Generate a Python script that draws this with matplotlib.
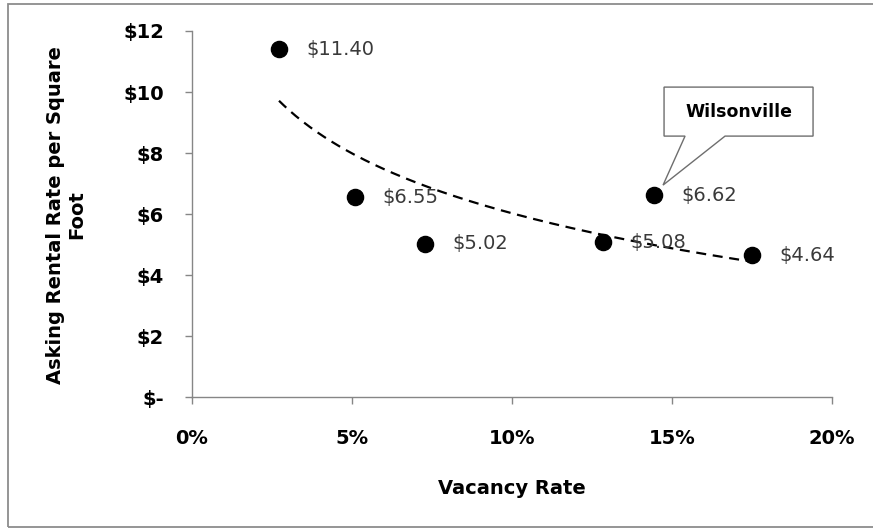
import numpy as np
import matplotlib.pyplot as plt
from matplotlib.patches import Polygon, Rectangle
from matplotlib.ticker import FuncFormatter
from matplotlib import transforms

# vacancy rate (fraction) and asking rent ($/sq ft) for each market
vacancy = [0.0272, 0.0509, 0.0728, 0.1284, 0.1444, 0.1750]
rent = [11.40, 6.55, 5.02, 5.08, 6.62, 4.64]
highlight = "Wilsonville"
highlight_idx = 4

x_ticks = [0.0, 0.05, 0.10, 0.15, 0.20]
y_ticks = [0, 2, 4, 6, 8, 10, 12]

fig = plt.figure(figsize=(8.73, 5.29), dpi=100)
ax = fig.add_axes([0.2199, 0.2495, 0.7331, 0.6919])

# outer chart frame
fig.patches.append(Rectangle((8 / 873, 2 / 529), 1.2, 523 / 529,
                             transform=fig.transFigure, fill=False,
                             edgecolor="#8c8c8c", linewidth=1.3))

ax.scatter(vacancy, rent, s=135, color="black", zorder=3)

# logarithmic trendline fitted to the points
vx = np.array(vacancy)
b, a = np.polyfit(np.log(vx), np.array(rent), 1)
xs = np.linspace(vx.min(), vx.max(), 200)
ax.plot(xs, a + b * np.log(xs), color="black", linestyle=(0, (4.5, 3)),
        linewidth=1.6, zorder=2)

for x, y in zip(vacancy, rent):
    ax.annotate(f"${y:.2f}", (x, y), xytext=(20, 0), textcoords="offset points",
                ha="left", va="center", fontsize=14, color="#3a3a3a",
                family="DejaVu Sans", zorder=4)

# callout box for the highlighted market (offsets in pixels from the point)
hx, hy = vacancy[highlight_idx], rent[highlight_idx]
trans = fig.dpi_scale_trans + transforms.ScaledTranslation(
    hx, hy, ax.transData)
pts = np.array([(10, 108), (159, 108), (159, 59), (71, 59), (9, 10),
                (31, 59), (10, 59)]) / 100.0
ax.add_patch(Polygon(pts, closed=True, transform=trans, facecolor="white",
                     edgecolor="#6e6e6e", linewidth=1.0, clip_on=False,
                     zorder=5))
ax.text(0.845, 0.835, highlight, transform=trans, ha="center", va="center",
        fontsize=12.5, fontweight="bold", family="DejaVu Sans", zorder=6)

ax.set_xlim(0, 0.20)
ax.set_ylim(0, 12)
ax.set_xticks(x_ticks)
ax.set_yticks(y_ticks)
ax.xaxis.set_major_formatter(FuncFormatter(lambda v, p: f"{v * 100:.0f}%"))
ax.yaxis.set_major_formatter(
    FuncFormatter(lambda v, p: "$-" if v == 0 else f"${v:.0f}"))

for side in ("top", "right"):
    ax.spines[side].set_visible(False)
for side in ("left", "bottom"):
    ax.spines[side].set_color("#868686")
    ax.spines[side].set_linewidth(1.0)

ax.tick_params(axis="both", direction="out", length=5, width=1.0,
               color="#868686", labelsize=14)
ax.tick_params(axis="y", pad=15)
ax.tick_params(axis="x", pad=18)
for lbl in ax.get_xticklabels() + ax.get_yticklabels():
    lbl.set_fontweight("bold")

ax.set_xlabel("Vacancy Rate", fontsize=14, fontweight="bold", labelpad=22)
fig.text(66 / 873, 1 - 215 / 529, "Asking Rental Rate per Square\nFoot",
         rotation=90, ha="center", va="center", multialignment="center",
         fontsize=14, fontweight="bold", linespacing=1.1)

fig.savefig("out.png", dpi=100)
